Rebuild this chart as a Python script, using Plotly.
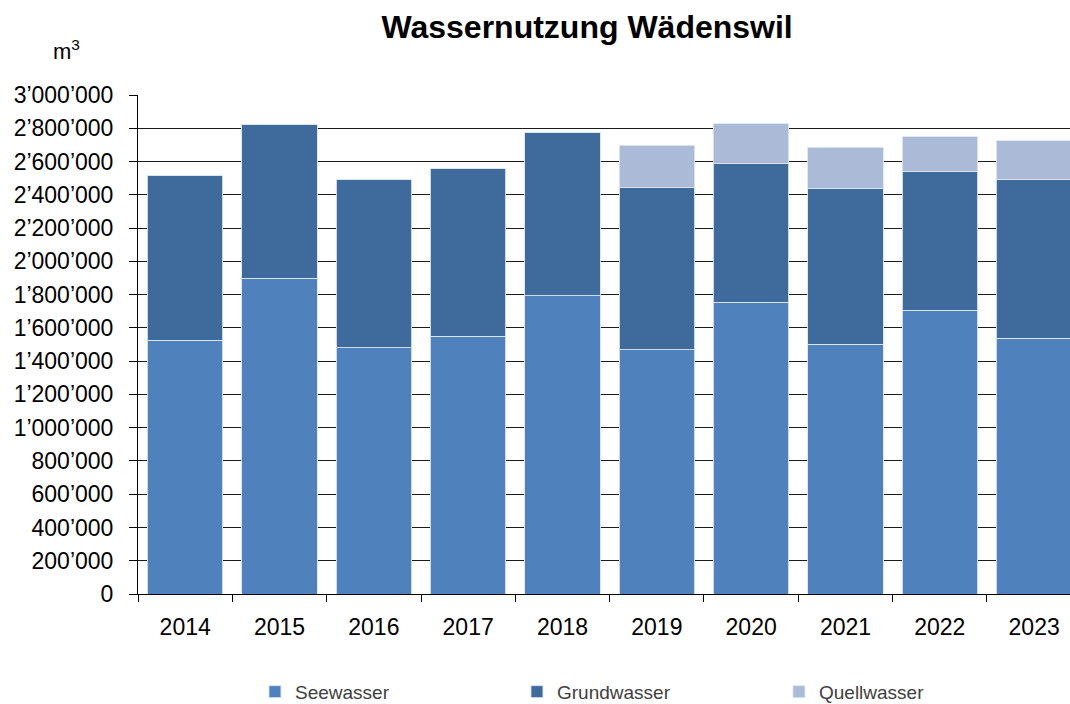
import plotly.graph_objects as go

years = ["2014", "2015", "2016", "2017", "2018", "2019", "2020", "2021", "2022", "2023"]
seewasser = [1527000, 1898000, 1481000, 1551000, 1792000, 1467000, 1755000, 1503000, 1707000, 1537000]
grundwasser_top = [2517000, 2824000, 2493000, 2559000, 2772000, 2443000, 2587000, 2437000, 2541000, 2493000]
total_top = [2517000, 2824000, 2493000, 2559000, 2772000, 2699000, 2826000, 2687000, 2749000, 2725000]
grundwasser = [g - s for g, s in zip(grundwasser_top, seewasser)]
quellwasser = [t - g for t, g in zip(total_top, grundwasser_top)]

y_ticks = list(range(0, 3000001, 200000))

FONT = "Liberation Sans, Arial, sans-serif"
edge = dict(color="rgba(220,230,242,0.9)", width=1)

fig = go.Figure()
fig.add_bar(x=years, y=seewasser, name="Seewasser", marker=dict(color="#4F81BD", line=edge))
fig.add_bar(x=years, y=grundwasser, name="Grundwasser", marker=dict(color="#3F6A9C", line=edge))
fig.add_bar(x=years, y=quellwasser, name="Quellwasser", marker=dict(color="#AABAD7", line=edge))

fig.update_layout(
    barmode="stack",
    bargap=0.2,
    width=1070,
    height=704,
    margin=dict(l=138, r=0, t=95, b=110, autoexpand=False),
    paper_bgcolor="white",
    plot_bgcolor="white",
    separators=".’",
    font=dict(family=FONT, size=23, color="#000000"),
    title=dict(
        text="<b>Wassernutzung Wädenswil</b>",
        x=0.5487, xanchor="center",
        y=0.962, yanchor="middle",
        font=dict(family=FONT, size=32, color="#000000"),
    ),
    showlegend=True,
    legend=dict(
        orientation="h",
        x=0.1255, xanchor="left",
        y=-0.196, yanchor="middle",
        entrywidth=217,
        font=dict(family=FONT, size=19, color="#404040"),
        traceorder="normal",
        itemclick=False,
    ),
    annotations=[
        dict(
            text="m<sup>3</sup>",
            x=(66 - 138) / 932, y=(594 - 50) / 499,
            xref="paper", yref="paper", xanchor="center", yanchor="middle",
            showarrow=False, font=dict(family=FONT, size=22, color="#000000"),
        )
    ],
)

fig.update_xaxes(
    type="category",
    range=[-0.5, 9.38],
    tickson="boundaries",
    ticks="outside",
    ticklen=7,
    tickcolor="#000000",
    ticklabelstandoff=12,
    showline=True,
    linecolor="#000000",
    linewidth=1,
    showgrid=False,
    tickfont=dict(family=FONT, size=23, color="#000000"),
)
fig.update_yaxes(
    range=[0, 3000000],
    tickvals=y_ticks,
    tickformat=",d",
    ticks="outside",
    ticklen=8,
    tickcolor="#000000",
    ticklabelstandoff=11,
    showline=True,
    linecolor="#000000",
    linewidth=1,
    showgrid=True,
    gridcolor="#1a1a1a",
    gridwidth=1,
    zeroline=False,
    tickfont=dict(family=FONT, size=23, color="#000000"),
)

fig.write_html(
    "out.html",
    config={"displayModeBar": False},
    post_script="document.body.style.margin='0';document.body.style.overflow='hidden';",
)
